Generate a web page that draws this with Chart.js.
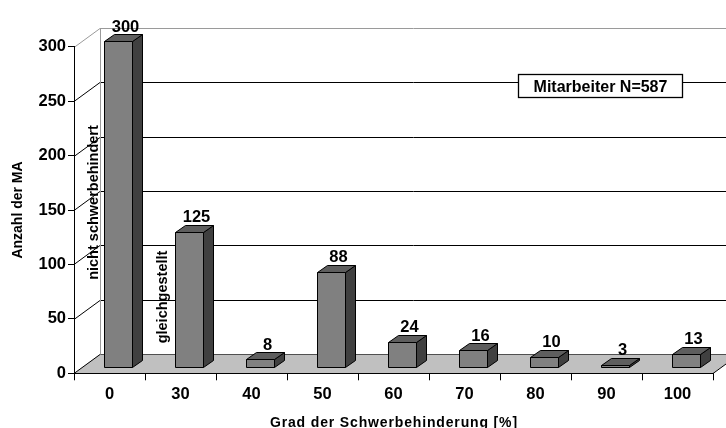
<!DOCTYPE html>
<html>
<head>
<meta charset="utf-8">
<script src="https://cdn.jsdelivr.net/npm/chart.js@4/dist/chart.umd.min.js"></script>
<style>
  html, body { margin: 0; padding: 0; background: #fff; }
  #wrap { width: 726px; height: 428px; }
</style>
</head>
<body>
<div id="wrap"><canvas id="chart" width="726" height="428"></canvas></div>
<script>
// Degree of disability (%) and number of employees in each group
const categories = ['0', '30', '40', '50', '60', '70', '80', '90', '100'];
const employees = [300, 125, 8, 88, 24, 16, 10, 3, 13];
const yTicks = [0, 50, 100, 150, 200, 250, 300];
const noteTexts = ['nicht schwerbehindert', 'gleichgestellt'];
const boxText = 'Mitarbeiter N=587';
const yTitle = 'Anzahl der MA';
const xTitle = 'Grad der Schwerbehinderung [%]';

const FONT = "'Liberation Sans', Arial, sans-serif";
const NUM_SIZE = 16.5;

// Oblique projection used for the walls/floor and for the bar blocks
const WALL_DX = 26, WALL_DY = -19;
const BAR_DX = 8.5, BAR_DY = -5.5;
const DEPTH_DX = 10, DEPTH_DY = -7;

function poly(ctx, pts, fill) {
  ctx.beginPath();
  ctx.moveTo(pts[0][0], pts[0][1]);
  for (let i = 1; i < pts.length; i++) ctx.lineTo(pts[i][0], pts[i][1]);
  ctx.closePath();
  ctx.fillStyle = fill;
  ctx.fill();
  ctx.stroke();
}

const scene3d = {
  id: 'scene3d',
  // walls and floor sit behind the axes and bars
  beforeDraw(chart) {
    const { ctx, chartArea: a, scales: { y } } = chart;
    const y0 = y.getPixelForValue(0);
    ctx.save();
    ctx.lineWidth = 1;

    // floor
    ctx.beginPath();
    ctx.moveTo(a.left, y0);
    ctx.lineTo(a.right, y0);
    ctx.lineTo(a.right + WALL_DX, y0 + WALL_DY);
    ctx.lineTo(a.left + WALL_DX, y0 + WALL_DY);
    ctx.closePath();
    ctx.fillStyle = '#c0c0c0';
    ctx.fill();

    // gridlines: side wall connectors + back wall lines
    yTicks.forEach(v => {
      const py = Math.round(y.getPixelForValue(v)) + 0.5;
      ctx.strokeStyle = v === y.max ? '#9a9a9a' : '#000';
      ctx.beginPath();
      ctx.moveTo(a.left, py);
      ctx.lineTo(a.left + WALL_DX, py + WALL_DY);
      ctx.stroke();
      ctx.strokeStyle = v === y.max ? '#9a9a9a' : (v === 0 ? '#505050' : '#000');
      ctx.beginPath();
      ctx.moveTo(a.left + WALL_DX, py + WALL_DY);
      ctx.lineTo(a.right + WALL_DX + 20, py + WALL_DY);
      ctx.stroke();
    });

    // back wall left edge
    const bx = Math.round(a.left + WALL_DX) + 0.5;
    ctx.strokeStyle = '#9a9a9a';
    ctx.beginPath();
    ctx.moveTo(bx, Math.round(y.getPixelForValue(y.max)) + 0.5 + WALL_DY);
    ctx.lineTo(bx, Math.round(y0) + 0.5 + WALL_DY);
    ctx.stroke();

    // floor right edge
    ctx.strokeStyle = '#000';
    ctx.beginPath();
    ctx.moveTo(a.right, Math.round(y0) + 0.5);
    ctx.lineTo(a.right + WALL_DX, Math.round(y0) + 0.5 + WALL_DY);
    ctx.stroke();
    ctx.restore();
  },

  // 3D blocks, value labels and annotations
  afterDatasetsDraw(chart) {
    const { ctx, scales: { x } } = chart;
    const meta = chart.getDatasetMeta(0);
    const values = chart.data.datasets[0].data;
    ctx.save();
    ctx.lineWidth = 1;
    ctx.strokeStyle = '#000';
    ctx.lineJoin = 'miter';
    meta.data.forEach((bar, i) => {
      const x0 = Math.round(bar.x - bar.width / 2 + BAR_DX) + 0.5;
      const x1 = Math.round(bar.x + bar.width / 2 + BAR_DX) + 0.5;
      const t = Math.round(bar.y + BAR_DY) + 0.5;
      const b = Math.round(bar.base + BAR_DY) + 0.5;
      // side face
      poly(ctx, [[x1, t], [x1 + DEPTH_DX, t + DEPTH_DY], [x1 + DEPTH_DX, b + DEPTH_DY], [x1, b]], '#404040');
      // top face
      poly(ctx, [[x0, t], [x0 + DEPTH_DX, t + DEPTH_DY], [x1 + DEPTH_DX, t + DEPTH_DY], [x1, t]], '#5e5e5e');
      // front face
      poly(ctx, [[x0, t], [x1, t], [x1, b], [x0, b]], '#808080');

      // value label
      ctx.fillStyle = '#000';
      ctx.font = 'bold ' + NUM_SIZE + 'px ' + FONT;
      ctx.textAlign = 'center';
      ctx.textBaseline = 'alphabetic';
      ctx.fillText(String(values[i]), bar.x + 16, bar.y - 15);
    });

    // vertical notes next to the first two bars
    const notes = [
      { idx: 0, dx: -11.5, cy: 202.5 },
      { idx: 1, dx: -14, cy: 297 }
    ];
    ctx.font = 'bold 14.5px ' + FONT;
    ctx.fillStyle = '#000';
    ctx.textAlign = 'center';
    ctx.textBaseline = 'alphabetic';
    notes.forEach((n, k) => {
      ctx.save();
      ctx.translate(x.getPixelForValue(n.idx) + n.dx, n.cy);
      ctx.rotate(-Math.PI / 2);
      ctx.fillText(noteTexts[k], 0, 0);
      ctx.restore();
    });
    ctx.restore();
  },

  afterDraw(chart) {
    const { ctx, chartArea: a } = chart;
    ctx.save();
    // info box
    const bx = 518.5, by = 74.5, bw = 164, bh = 23;
    ctx.fillStyle = '#fff';
    ctx.fillRect(bx, by, bw, bh);
    ctx.strokeStyle = '#000';
    ctx.lineWidth = 1.3;
    ctx.strokeRect(bx, by, bw, bh);
    ctx.fillStyle = '#000';
    ctx.font = 'bold 16px ' + FONT;
    ctx.textAlign = 'center';
    ctx.textBaseline = 'alphabetic';
    ctx.fillText(boxText, bx + bw / 2, 91.7);

    // x-axis title (letter-spaced)
    ctx.font = 'bold 14px ' + FONT;
    ctx.letterSpacing = '0.85px';
    ctx.textAlign = 'left';
    const w = ctx.measureText(xTitle).width - 0.85;
    ctx.fillText(xTitle, (a.left + a.right) / 2 - w / 2, 427);
    ctx.letterSpacing = '0px';
    ctx.restore();
  }
};

new Chart(document.getElementById('chart'), {
  type: 'bar',
  data: {
    labels: categories,
    datasets: [{
      label: boxText,
      data: employees,
      backgroundColor: 'rgba(0,0,0,0)',
      borderWidth: 0,
      categoryPercentage: 1,
      barPercentage: 0.4
    }]
  },
  options: {
    responsive: false,
    animation: false,
    events: [],
    layout: { padding: { top: 46.7, right: 13, bottom: 0, left: 0 } },
    plugins: {
      legend: { display: false },
      tooltip: { enabled: false }
    },
    scales: {
      x: {
        grid: { offset: true, drawOnChartArea: false, drawTicks: true, tickLength: 7, color: '#000' },
        border: { display: true, color: '#000', width: 1 },
        ticks: { color: '#000', font: { family: FONT, size: NUM_SIZE, weight: 'bold' }, padding: 4, maxRotation: 0 },
        afterFit(s) { s.height = 54.7; }
      },
      y: {
        min: 0,
        max: 300,
        afterBuildTicks(s) { s.ticks = yTicks.map(v => ({ value: v })); },
        grid: { drawOnChartArea: false, drawTicks: true, tickLength: 6, color: '#000' },
        border: { display: true, color: '#000', width: 1 },
        ticks: { color: '#000', font: { family: FONT, size: NUM_SIZE, weight: 'bold' }, padding: 2 },
        title: {
          display: true,
          text: yTitle,
          color: '#000',
          font: { family: FONT, size: 14, weight: 'bold', lineHeight: 1 },
          padding: { top: 11.5, bottom: 0 }
        },
        afterFit(s) { s.width = 74; }
      }
    }
  },
  plugins: [scene3d]
});
</script>
</body>
</html>
